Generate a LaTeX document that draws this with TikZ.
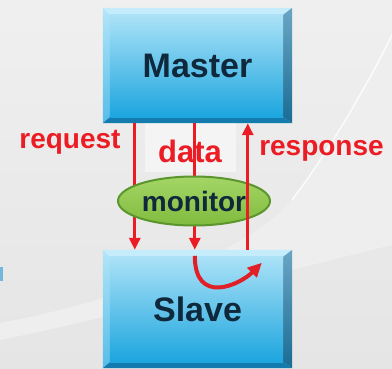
\documentclass[tikz,border=0pt]{standalone}
\usepackage{fontspec}
\setmainfont{Liberation Sans}
\usetikzlibrary{arrows.meta,shapes.geometric,calc}
\pgfdeclarelayer{bg}
\pgfsetlayers{bg,main}

\definecolor{backgrey}{HTML}{E5E5E5}
\definecolor{swooshwhite}{HTML}{EEEEEE}
\definecolor{navytext}{HTML}{0F283C}
\definecolor{arrowred}{HTML}{EC1C24}
\definecolor{curlred}{HTML}{E01F27}
\definecolor{faceTop}{HTML}{ABE2F7}
\definecolor{faceMid}{HTML}{74CDF0}
\definecolor{faceBot}{HTML}{1CA5DE}
\definecolor{bevTop}{HTML}{C4ECFA}
\definecolor{bevLeftA}{HTML}{B3E5F8}
\definecolor{bevLeftB}{HTML}{55BDE9}
\definecolor{bevRightA}{HTML}{6AA6C4}
\definecolor{bevRightB}{HTML}{1A6B94}
\definecolor{bevBot}{HTML}{137BAE}
\definecolor{monTop}{HTML}{A4D566}
\definecolor{monBot}{HTML}{80BC3E}
\definecolor{monEdge}{HTML}{5A962C}
\definecolor{markblue}{HTML}{74B6DC}

\tikzset{
  unit/.style={rectangle, minimum width=189pt, inner sep=0pt,
    font=\bfseries\fontsize{34}{36}\selectfont, text=navytext},
  flow/.style={draw=arrowred, line width=2.8pt,
    -{Triangle[length=12pt,width=11pt]}},
  curl/.style={draw=curlred, line width=4pt,
    -{Triangle[length=14pt,width=13pt]}},
  lbl/.style={font=\bfseries\fontsize{28}{30}\selectfont, text=arrowred,
    inner sep=0pt, anchor=base},
  monitorshape/.style={ellipse, minimum width=152pt, minimum height=49pt,
    inner sep=0pt, draw=monEdge, line width=2pt, top color=monTop,
    bottom color=monBot, font=\bfseries\fontsize{28}{30}\selectfont,
    text=navytext},
}

% bevelled frame and shaded face behind a box node
\newcommand\bevelbox[1]{%
  \coordinate (#1-iNW) at ($(#1.north west)+(7,7)$);
  \coordinate (#1-iNE) at ($(#1.north east)+(-9,7)$);
  \coordinate (#1-iSE) at ($(#1.south east)+(-9,-6)$);
  \coordinate (#1-iSW) at ($(#1.south west)+(7,-6)$);
  \fill[bevTop] (#1.north west) -- (#1.north east) -- (#1-iNE) -- (#1-iNW) -- cycle;
  \shade[top color=bevLeftA, bottom color=bevLeftB]
    (#1.north west) -- (#1-iNW) -- (#1-iSW) -- (#1.south west) -- cycle;
  \shade[top color=bevRightA, bottom color=bevRightB]
    (#1.north east) -- (#1.south east) -- (#1-iSE) -- (#1-iNE) -- cycle;
  \fill[bevBot] (#1.south west) -- (#1-iSW) -- (#1-iSE) -- (#1.south east) -- cycle;
  \shade[top color=faceTop, middle color=faceMid, bottom color=faceBot]
    (#1-iNW) rectangle (#1-iSE);
}

\begin{document}
\begin{tikzpicture}[x=1pt,y=-1pt]
\useasboundingbox (0,0) rectangle (392,368);

% backdrop
\begin{pgfonlayer}{bg}
  \shade[top color=white!40!backgrey, bottom color=backgrey]
    (0,0) rectangle (392,368);
  \fill[swooshwhite] (0,323) .. controls (150,295) and (260,240) .. (292,200)
    .. controls (330,150) and (370,80) .. (392,35) -- (392,245)
    .. controls (250,280) and (100,320) .. (0,340) -- cycle;
  \draw[white, line width=1.5pt, opacity=0.8]
    (292,200) .. controls (330,150) and (370,80) .. (392,35);
  \fill[markblue] (0,267) rectangle (2.5,281);
  \fill[white, opacity=0.45] (145,123) rectangle (236,172);
\end{pgfonlayer}

% the two units
\node[unit, minimum height=115pt] (master) at (197.5,65.5) {Master};
\node[unit, minimum height=118pt] (slave) at (197.5,309) {Slave};
\begin{pgfonlayer}{bg}
  \bevelbox{master}
  \bevelbox{slave}
\end{pgfonlayer}

% labels
\node[lbl] (reqlbl) at (70,148) {request};
\node[lbl, font=\bfseries\fontsize{31}{33}\selectfont] (datalbl) at (190,162) {data};
\node[lbl] (resplbl) at (321.5,155) {response};

% request and data lines run behind the monitor
\draw[flow] ([xshift=32pt]master.south west) -- ([xshift=32pt]slave.north west);
\draw[flow] ([xshift=92pt]master.south west) -- ([xshift=92pt]slave.north west);

\node[monitorshape] (monitor) at (194,201) {monitor};

% response line in front
\draw[flow] ([xshift=145pt]slave.north west) -- ([xshift=145pt]master.south west);

% loop inside the slave
\coordinate (loopin) at ($(slave.north west)+(92,6)$);
\coordinate (loopout) at ($(slave.north west)+(159,13)$);
\draw[curl] (loopin) .. controls ($(loopin)+(0,50)$) and ($(loopout)+(-22,22)$) .. (loopout);
\end{tikzpicture}
\end{document}
